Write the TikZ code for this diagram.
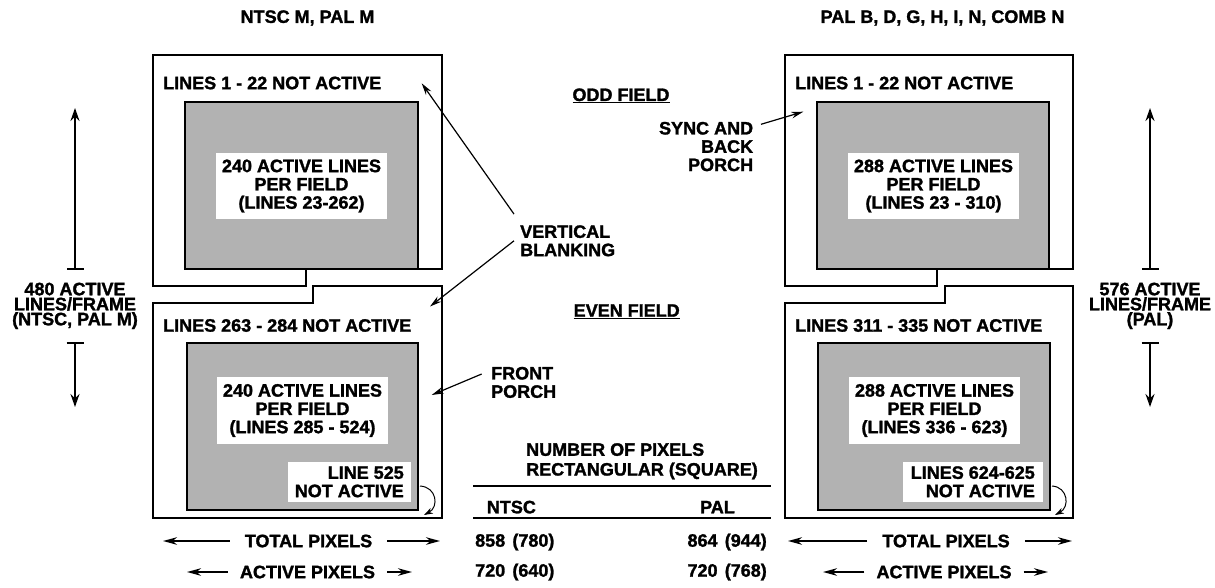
\documentclass[tikz,border=0pt]{standalone}
\usepackage{fontspec}
\setmainfont{Liberation Sans}[BoldFeatures={FakeBold=1.5}]
\usetikzlibrary{arrows.meta}
\newcommand\fldtightfont{\bfseries\fontsize{18}{15}\selectfont\lineskiplimit=-20pt\relax}
\tikzset{
  every picture/.append style={line join=miter},
  fld frame/.style={line width=2.5pt},
  fld active/.style={fill=black!30,draw,line width=2.5pt},
  fld text/.style={font=\bfseries\fontsize{18}{18.3}\selectfont,inner sep=0pt},
  fld box/.style={fld text,fill=white,align=center},
  fld tight/.style={font=\fldtightfont,inner sep=0pt,align=center},
  fld span/.style={line width=2pt,-{Stealth[length=14pt,width=7.5pt]}},
  fld height/.style={line width=2pt,{Bar[width=17pt]}-{Stealth[length=13pt,width=9pt]}},
  fld pointer/.style={line width=1.2pt,-{Stealth[length=12pt,width=6.5pt]}},
  fld curl/.style={line width=1pt,-{Stealth[length=9pt,width=6pt]}},
  fld rule/.style={line width=2pt}
}

\begin{document}
\begin{tikzpicture}[x=1pt,y=-1pt]
  \useasboundingbox (0,0) rectangle (1215,588);

  % headings
  \node[fld text] (hdNtsc) at (307.5,18) {NTSC M, PAL M};
  \node[fld text] (hdPal) at (942.5,18) {PAL B, D, G, H, I, N, COMB N};

  % NTSC, odd field
  \draw[fld active] (185,102) rectangle (418,269);
  \draw[fld frame] (153,55) -- (442,55) -- (442,269) -- (306,269) -- (306,286) -- (153,286) -- cycle;
  \node[fld text,anchor=west] (ntOddHead) at (163,83) {LINES 1 - 22 NOT ACTIVE};
  \node[fld box,minimum width=171pt,minimum height=66pt] (ntOddAct) at (301.5,186) {240 ACTIVE LINES\\PER FIELD\\(LINES 23-262)};

  % NTSC, even field
  \draw[fld active] (187,343) rectangle (418,510);
  \draw[fld frame] (153,303) -- (313,303) -- (313,286) -- (442,286) -- (442,518) -- (153,518) -- cycle;
  \node[fld text,anchor=west] (ntEvenHead) at (163,325.5) {LINES 263 - 284 NOT ACTIVE};
  \node[fld box,minimum width=171pt,minimum height=67pt] (ntEvenAct) at (302.5,410.5) {240 ACTIVE LINES\\PER FIELD\\(LINES 285 - 524)};
  \node[fld box,align=right,anchor=south east,minimum width=123pt,minimum height=40pt] (ntLast) at (411,502) {LINE 525\\NOT ACTIVE};

  % PAL, odd field
  \draw[fld active] (817,102) rectangle (1049,269);
  \draw[fld frame] (785,55) -- (1073,55) -- (1073,269) -- (937,269) -- (937,286) -- (785,286) -- cycle;
  \node[fld text,anchor=west] (palOddHead) at (795,83) {LINES 1 - 22 NOT ACTIVE};
  \node[fld box,minimum width=171pt,minimum height=66pt] (palOddAct) at (933.5,186) {288 ACTIVE LINES\\PER FIELD\\(LINES 23 - 310)};

  % PAL, even field
  \draw[fld active] (818,343) rectangle (1050,510);
  \draw[fld frame] (785,303) -- (945,303) -- (945,286) -- (1073,286) -- (1073,518) -- (785,518) -- cycle;
  \node[fld text,anchor=west] (palEvenHead) at (795,325.5) {LINES 311 - 335 NOT ACTIVE};
  \node[fld box,minimum width=171pt,minimum height=67pt] (palEvenAct) at (934.5,410.5) {288 ACTIVE LINES\\PER FIELD\\(LINES 336 - 623)};
  \node[fld box,align=right,anchor=south east,minimum width=140pt,minimum height=40pt] (palLast) at (1043,502) {LINES 624-625\\NOT ACTIVE};

  % lines per frame
  \node[fld tight,minimum height=71.7pt] (ntFrame) at (75,305.85) {480 ACTIVE\\LINES/FRAME\\(NTSC, PAL M)};
  \coordinate (ntFrameTop) at (75,108);
  \coordinate (ntFrameBot) at (75,407);
  \draw[fld height] (ntFrame.north) -- (ntFrameTop);
  \draw[fld height] (ntFrame.south) -- (ntFrameBot);
  \node[fld tight,minimum height=71.7pt] (palFrame) at (1150,305.85) {576 ACTIVE\\LINES/FRAME\\(PAL)};
  \coordinate (palFrameTop) at (1150,108);
  \coordinate (palFrameBot) at (1150,407);
  \draw[fld height] (palFrame.north) -- (palFrameTop);
  \draw[fld height] (palFrame.south) -- (palFrameBot);

  % pixels per line
  \node[fld text,inner xsep=15pt] (ntTotal) at (308.5,541) {TOTAL PIXELS};
  \coordinate (ntTotalL) at (163,541);
  \coordinate (ntTotalR) at (440,541);
  \draw[fld span] (ntTotal.west) -- (ntTotalL);
  \draw[fld span] (ntTotal.east) -- (ntTotalR);
  \node[fld text,inner xsep=12pt] (ntActive) at (307.5,572) {ACTIVE PIXELS};
  \coordinate (ntActiveL) at (187,572);
  \coordinate (ntActiveR) at (412,572);
  \draw[fld span] (ntActive.west) -- (ntActiveL);
  \draw[fld span] (ntActive.east) -- (ntActiveR);
  \node[fld text,inner xsep=15pt] (palTotal) at (946,541) {TOTAL PIXELS};
  \coordinate (palTotalL) at (788,541);
  \coordinate (palTotalR) at (1072,541);
  \draw[fld span] (palTotal.west) -- (palTotalL);
  \draw[fld span] (palTotal.east) -- (palTotalR);
  \node[fld text,inner xsep=12pt] (palActive) at (944,572) {ACTIVE PIXELS};
  \coordinate (palActiveL) at (823,572);
  \coordinate (palActiveR) at (1048,572);
  \draw[fld span] (palActive.west) -- (palActiveL);
  \draw[fld span] (palActive.east) -- (palActiveR);

  % centre labels
  \node[fld text,anchor=base] (oddField) at (621,101) {\underline{ODD FIELD}};
  \node[fld text,anchor=base] (evenField) at (626.7,316.7) {\underline{EVEN FIELD}};
  \node[fld text,align=left,anchor=west,inner xsep=6pt,inner ysep=11pt] (vblank) at (514,240.8) {VERTICAL\\BLANKING};
  \coordinate (vblankOdd) at (421.7,83.3);
  \coordinate (vblankEven) at (430,306.5);
  \draw[fld pointer] (vblank.north west) -- (vblankOdd);
  \draw[fld pointer] (vblank.west) -- (vblankEven);
  \node[fld text,align=right,anchor=north east,inner xsep=7.7pt] (sync) at (761,121.7) {SYNC AND\\BACK\\PORCH};
  \coordinate (syncTip) at (803.3,111.7);
  \draw[fld pointer] ([yshift=-2.6pt]sync.north east) -- (syncTip);
  \node[fld text,align=left,anchor=north west,inner xsep=9.3pt] (front) at (481.7,366.7) {FRONT\\PORCH};
  \coordinate (frontTip) at (431.7,395);
  \draw[fld pointer] ([yshift=-7.3pt]front.north west) -- (frontTip);

  % last line markers
  \coordinate (ntCurlA) at (420,486);
  \coordinate (ntCurlB) at (424,515);
  \draw[fld curl] (ntCurlA) .. controls (437,487) and (439,507) .. (ntCurlB);
  \coordinate (palCurlA) at (1052,486);
  \coordinate (palCurlB) at (1055,515);
  \draw[fld curl] (palCurlA) .. controls (1068,487) and (1070,507) .. (palCurlB);

  % pixel table
  \node[fld text,font=\bfseries\fontsize{18}{19.8}\selectfont,align=left,anchor=north west] (pixHead) at (526,443) {NUMBER OF PIXELS\\RECTANGULAR (SQUARE)};
  \coordinate (ruleTopL) at (473,485.7);
  \coordinate (ruleTopR) at (771,485.7);
  \coordinate (ruleBotL) at (473,518.3);
  \coordinate (ruleBotR) at (771,518.3);
  \draw[fld rule] (ruleTopL) -- (ruleTopR);
  \draw[fld rule] (ruleBotL) -- (ruleBotR);
  \node[fld text,anchor=base west] (colNtsc) at (486.7,513.3) {NTSC};
  \node[fld text,anchor=base east] (colPal) at (735,513.3) {PAL};
  \node[fld text,anchor=base west] (ntTotalVal) at (475,546.7) {858\hspace{0.4em}(780)};
  \node[fld text,anchor=base east] (palTotalVal) at (767,546.7) {864\hspace{0.4em}(944)};
  \node[fld text,anchor=base west] (ntActiveVal) at (475,576.7) {720\hspace{0.4em}(640)};
  \node[fld text,anchor=base east] (palActiveVal) at (767,576.7) {720\hspace{0.4em}(768)};
\end{tikzpicture}
\end{document}
